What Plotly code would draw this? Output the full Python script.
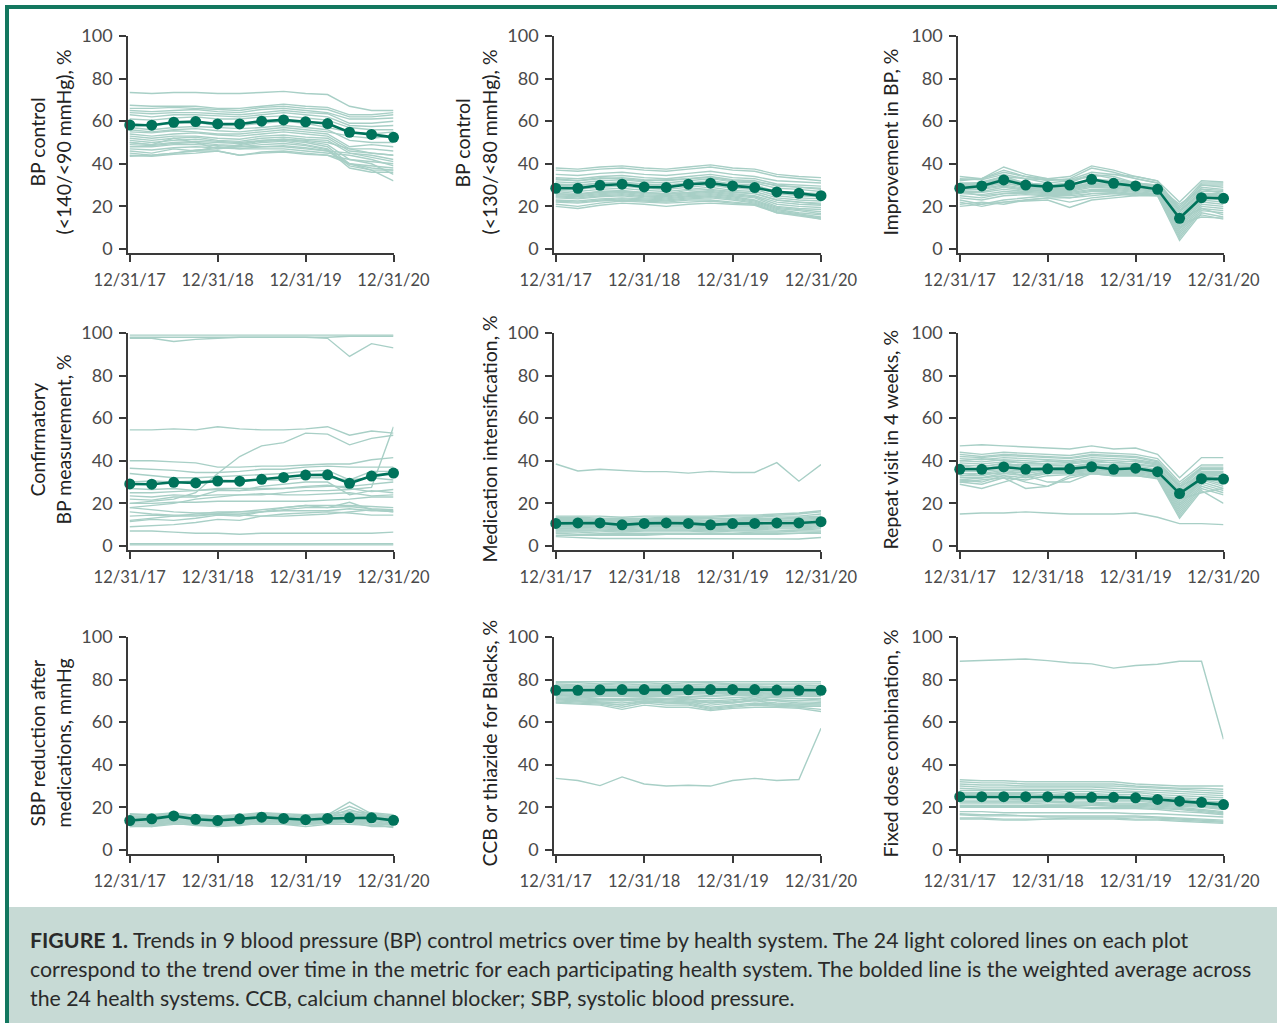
import plotly.graph_objects as go

# ---------------- DATA ----------------
quarters = list(range(13))  # quarterly from 12/31/17 to 12/31/20
tick_vals = [0, 4, 8, 12]
tick_text = ["12/31/17", "12/31/18", "12/31/19", "12/31/20"]
y_ticks = [0, 20, 40, 60, 80, 100]

# Panel 1: BP control (<140/<90 mmHg), %
p1_mean = [58.2, 58.1, 59.5, 59.8, 58.7, 58.7, 60.0, 60.6, 59.7, 58.9, 54.8, 53.8, 52.4]
p1_sys = [
    [73.5,73,73.5,73.5,73,73,73.5,74,73,72.5,67,65,65],
    [67.5,67,67,67,66,66,67,68,67,66.5,63,63,64],
    [66,66,66.5,66,65.5,65,66.5,67,66,65.5,62,62,63],
    [65,64.5,65,65.5,64.5,64,65.5,66,65,64,61,61,61.5],
    [64,63.5,64,64,63.5,63,64,65,64,63.5,59,59,60],
    [63,62,63,63,62.5,62,63,64,63,62,58,57.5,58],
    [61,60.5,61.5,62,61,61,62,62.5,61.5,60.5,57,56,56],
    [57,56,57,57.5,57,56.5,57,58,57,56,51,50,50],
    [55,54.5,55.5,55,54,54,55,56,55,54,48,49,48],
    [54,53,54,54.5,53.5,53,54,55,54,53,47,47,46],
    [53,52,53,53,52,51.5,53,53.5,52.5,52,46,45,44],
    [52,51,52,52.5,51,50.5,52,52.5,51.5,51,45,44,42],
    [51,50,51,51.5,50.5,50,51,51.5,50.5,49,42,41,40],
    [50,49,50,50.5,50,49.5,50.5,51,50,48,40,39,38],
    [49,48.5,49.5,50,49,48.5,50,50.5,49,47,39,37,37],
    [48,48,49,49,48.5,48,49,49.5,48.5,46.5,38,36,36],
    [47,46.5,47.5,48,47.5,47,48,48.5,47.5,46,45,43,41],
    [46,45,47,46,48,47,47,47,46,45,44,42,39],
    [45,44,45,46,46,44,45.5,46,45,44,42,40,35],
    [44,43.5,44.5,45,46,44,45,45.5,44.5,44,40,37,32],
    [43.5,44,45,46.5,47,48,48,48,47,46,40,38,37],
    [50,49,52,50,47,49,51,51.5,51,50,47,45,44],
    [56,55,56,56.5,55.5,55,56,57,56,55,53,52,53],
    [59,58,59,59.5,58,58,59,60,59,57,55,54,55],
]

# Panel 2: BP control (<130/<80 mmHg), %
p2_mean = [28.5, 28.5, 29.9, 30.4, 29.1, 28.9, 30.4, 30.9, 29.6, 28.8, 26.8, 26.1, 25.0]
p2_sys = [
    [38,37.5,38.5,39,38,37.5,38.5,39.5,38,37.5,35,34,33.5],
    [37,36.5,37.5,38,37,36.5,37.5,38.5,37,36.5,34,33,32],
    [35,34.5,35.5,36,35,34.5,35.5,36.5,35,34,32,31.5,31],
    [33.5,33,34,34.5,33.5,33,34,35,33.5,33,30.5,30,29.5],
    [32.5,32,33,33.5,32.5,32,33,34,32.5,32,29.5,29,28.5],
    [31.5,31,32,32.5,31.5,31,32,33,31.5,31,28.5,28,27],
    [30.5,30,31,31.5,30.5,30,31,32,30.5,30,27,26.5,26],
    [29.5,29,30,30.5,29.5,29,30,31,29.5,29,26,25,24.5],
    [28.5,28,29,29.5,28.5,28,29,30,28.5,28,25,24,23.5],
    [27.5,27,28,28.5,27.5,27,28,29,27.5,27,24,23,22.5],
    [27,26,27,27.5,26.5,26,27.5,28,27,26,23,22,21.5],
    [26,25.5,26.5,27,26,25.5,26.5,27,26,25,22,21,20.5],
    [25.5,25,26,26.5,25.5,25,26,26.5,25.5,24.5,21,20,19.5],
    [25,24.5,25.5,26,25,24.5,25.5,26,25,24,20,19,18.5],
    [24.5,24,25,25.5,24.5,24,25,25.5,24.5,23,19.5,18.5,17.5],
    [24,23.5,24.5,25,24,23.5,24.5,25,24,22.5,19,18,16.5],
    [23,22.5,23.5,24,23.5,23,24,24.5,23.5,22,18.5,17,16],
    [22.5,22,23,23.5,23,22.5,23.5,24,23,21.5,18,16.5,15],
    [22,21.5,22.5,23,22.5,22,23,23,22,21,17.5,16,14.5],
    [21,20,21.5,22.5,22,21.5,22,22.5,21.5,21,17,16,14],
    [20,19,20.5,21.5,21,20,21,21.5,21,20.5,17,15.5,14],
    [33,32,33.5,33,32,32.5,33,33.5,32,31.5,30,29,28],
    [30,29.5,31,31,30,29.5,30.5,31,30,29,27,26,25],
    [26,25.5,27,27,26.5,26,26.5,27.5,26.5,26,23,22,21],
]

# Panel 3: Improvement in BP, %
p3_mean = [28.5, 29.6, 32.4, 30.0, 29.2, 30.0, 32.7, 30.8, 29.6, 28.0, 14.4, 24.1, 23.8]
p3_sys = [
    [34,33,36,34,33,32,34,35,34,32,22,32,31.5],
    [33,32.5,35,33,32.5,32.5,36,35,33,31,20,31,31],
    [32.5,33,37,34,32,33,38,36,33,31,19,30,30],
    [32,33,38.5,35,33,34,39,37,34,32,18,30,29],
    [31,31,34,31,30,31,35,33,31,30,17,29,28],
    [30.5,31,33,31,30,30,33,32,31,29.5,16,28,27.5],
    [30,30.5,33,30,29.5,30,32.5,31,30,29,15,27,27],
    [29.5,30,32,30,29,29.5,32,31,30,29,14,26,26],
    [29,29.5,31,29.5,29,29,31,30,29.5,28.5,13,25,25],
    [28.5,29,31,29,28.5,28.5,30.5,30,29,28,12,24,24],
    [28,28.5,30,28.5,28,28,30,29.5,28.5,27.5,11,24,23],
    [27.5,28,29.5,28,27.5,27.5,29.5,29,28,27,10,23,22],
    [27,27,29,27.5,27,27,29,28.5,27.5,26.5,9,22,21],
    [26.5,26.5,28,27,26.5,26.5,28,28,27,26,8,21,20],
    [26,25.5,27,26.5,26,26,27.5,27.5,26.5,25.5,7,20,19],
    [25,24,26,26,25.5,25.5,27,27,26,25.5,6,19,18],
    [24,23,25,25.5,25,25,26,26.5,25.5,25,5,18,17],
    [23,21,23,24,25,24,25,26,25,25,4,17,15],
    [22,20,22,23,24,22,24,25,26,25.5,10,16,14],
    [20,21,22,22.5,23,19.5,23,24,25,26,12,15,14.5],
    [21,22,21,23,24,24,26,26,26,26,14,19,16],
    [30,31.5,34,33,31,32,35,34,31,29,21,28,26],
    [27,25,26,27,28,28,30,30,29,27,15,25,26],
    [29,31,33,31,30,29,31,31,31,30,18,26,24.5],
]

# Panel 4: Confirmatory BP measurement, %
p4_mean = [29.1, 29.0, 29.9, 29.6, 30.5, 30.4, 31.3, 32.2, 33.3, 33.4, 29.4, 32.8, 34.2]
p4_sys = [
    [99,99,99,99,99,99,99,99,99,99,99,99,99],
    [97.5,97.5,96,97,97.5,98,98,98,98,98,98.5,98.5,98.5],
    [98,98,98,98,98,98,98,98,98,97.5,89,95,93],
    [54.5,54.5,55,54.5,56,55,54.5,54.5,55,56,52,54,53],
    [20,21,22,25,34,42,47,48.5,53,52.5,47.5,50.5,52],
    [40,40,39.5,39,37,37,37.5,37.5,38,38.5,38.5,40.5,41.5],
    [36.5,36,35.5,34.5,34.5,35,36,36,37,37.5,37,37,37],
    [18,19,20,22,23,24,24,25,26,26,26.5,27.5,56],
    [34,33,32,32,32.5,33,33.5,34,35,35.5,31,35,35],
    [27,26.5,27,26,27,27,27,27,28,28.5,27,25.5,26.5],
    [23.5,23,24,23.5,24,24,24.5,24,24,24.5,25,23.5,24],
    [20,20,20.5,20.5,21,21,21,21,21,21.5,22,23,23],
    [18,17,16,15.5,15.5,16,16,16.5,16.5,16.5,17.5,16.5,16.5],
    [16,15,14.5,14.5,15,15,16,17,18,18,18.5,17.5,17],
    [11.5,12.5,12,13,14.5,14,16,18,19,18,20.5,17,16],
    [9,9.5,10,11,12.5,12,14,15,15.5,16,15.5,14.5,14.5],
    [7,7,6.5,6,6,5.5,6,6,6,6,6,6,6.5],
    [0.5,0.5,0.5,0.5,0.5,0.5,0.5,0.5,0.5,0.5,0.5,0.5,0.5],
    [1,1,1,1,1,1,1,1,1,1,1,1,1],
    [22,21.5,23,23,26,26,28,29,30,30,24,26,25],
    [25,25,25.5,26,26.5,26,26.5,27,27.5,28,28,29,30],
    [12,13,14,15,16,16,17,18,19,19,19,18.5,18],
    [30,30.5,30,30.5,30,31,31,31,32,32,31,32,31],
    [14,14.5,14,14,15,14.5,14,14,14.5,15,16,17,16],
]

# Panel 5: Medication intensification, %
p5_mean = [10.6, 10.8, 10.8, 9.9, 10.6, 10.8, 10.6, 9.9, 10.5, 10.6, 10.8, 10.8, 11.4]
p5_sys = [
    [38.5,35.2,36,35.3,34.9,34.9,34.2,35,34.5,34.5,39.1,30.4,38.2],
    [4.4,4,3.5,3.5,3.5,3.5,3.5,3.3,3.5,3.5,3.5,3.3,4],
    [14,14,14,13.5,14,14,14,14,14.5,14.5,15,15.5,16.5],
    [13.5,13.5,13,13,13,13.5,13.5,13.5,14,14,14.5,15,16],
    [13,13,12.5,12.5,12.5,13,13,13,13,13.5,14,14,15],
    [12.5,12.5,12,12,12,12.5,12.5,12,12.5,13,13,13.5,14],
    [12,12,12,11.5,12,12,12,11.5,12,12,12.5,13,13.5],
    [11.5,11.5,11.5,11,11.5,11.5,11.5,11,11.5,11.5,12,12,12.5],
    [11,11,11,10.5,11,11,11,10.5,11,11,11.5,11.5,12],
    [10.5,10.5,10.5,10,10.5,10.5,10.5,10,10.5,10.5,11,11,11.5],
    [10,10,10,9.5,10,10,10,9.5,10,10,10.5,10.5,11],
    [9.5,9.5,9.5,9,9.5,9.5,9.5,9,9.5,9.5,10,10,10.5],
    [9,9,9,8.5,9,9,9,8.5,9,9,9.5,9.5,10],
    [8.5,8.5,8.5,8,8.5,8.5,8.5,8,8.5,8.5,9,9,9.5],
    [8,8,8,7.5,8,8,8,7.5,8,8,8.5,8.5,9],
    [7.5,7.5,7.5,7,7.5,7.5,7.5,7,7.5,7.5,8,8,8.5],
    [7,7,7,6.5,7,7,7,6.5,7,7,7,7.5,8],
    [6.5,6.5,6,6,6,6,6,6,6,6.5,6.5,7,7],
    [6,5.5,5.5,5.5,5.5,5.5,5.5,5.5,5.5,6,6,6,6.5],
    [12,12.5,12.5,12,12.5,13,12.5,12,12.5,12.5,12,11.5,12],
    [10,10.5,10,10,10.5,10.5,10,10,10,10.5,10.5,10,10.5],
    [8,8.5,9,9,9.5,9.5,9.5,9.5,10,10,10.5,11,11],
    [5,5,5,5,5,5.5,5.5,5.5,5.5,5.5,5.5,6,6],
    [13,12.5,12,11.5,11.5,12,12,11.5,12,12.5,13,12.5,13],
]

# Panel 6: Repeat visit in 4 weeks, %
p6_mean = [36.0, 36.0, 37.1, 36.0, 36.2, 36.2, 37.2, 36.0, 36.5, 34.9, 24.6, 31.6, 31.4]
p6_sys = [
    [47,47.5,47,46.5,46,45.5,47,45.5,46,43,32,41.5,41.5],
    [15,15.5,15.5,16,15.5,15,15,15,15.5,13.5,10.5,10.5,10],
    [44,43,44,43.5,43,42.5,44,43.5,43,41,30,38,38],
    [43,42,43,42.5,42,41.5,43,42.5,42,40,29,37,37],
    [42,41.5,42.5,42,41.5,41,42.5,42,41.5,39.5,28,36.5,36.5],
    [41,40.5,41.5,41,40.5,40,41.5,41,40.5,39,27,36,36],
    [40,39.5,40.5,40,39.5,39.5,40.5,40,39.5,38,26,35,35],
    [39,38.5,39.5,39,38.5,38.5,39.5,39,38.5,37.5,25,34.5,34.5],
    [38,37.5,38.5,38,38,37.5,38.5,38,38,37,24,34,34],
    [37,36.5,37.5,37,37,37,38,37.5,37.5,36,23,33.5,33],
    [36,36,37,36,36.5,36.5,37.5,37,37,35.5,22,33,32],
    [35,35,36,35,36,36,37,36.5,36.5,35,21,32.5,31],
    [34,34,35.5,34,35.5,35.5,36.5,36,36,34.5,20,32,30],
    [33,33,35,33,35,35,36,35.5,35.5,34,19,31.5,29],
    [32,32,34,33,34.5,34.5,35.5,35,35,33.5,18,31,28],
    [31,30,33,32,34,34,35,34.5,34.5,33,17,30,27],
    [30,29,32,31,33,33.5,34.5,34,34,32.5,16,29,26],
    [29,27,30,33,30,30,34,33.5,33.5,32,15,28,25],
    [30,31,32,27,28,32,34,33,33,32,14,27,24],
    [31,32,33,30,28,33,34,33,33,31.5,13,26,20],
    [38,36,38,37,36,35,36,35,35,34,26,30,33],
    [40,41,40,39,40,39,40,39,40,38.5,28,33,34],
    [36,37,39,37,36,37,39,37,37,36,24,35,35],
    [33,34,34,35,36,36,37,36,36,34,22,25,27],
]

# Panel 7: SBP reduction after medications, mmHg
p7_mean = [13.8, 14.6, 16.0, 14.4, 13.8, 14.6, 15.4, 14.8, 14.2, 14.8, 15.1, 15.1, 13.9]
p7_sys = [
    [16.5,16.5,17.5,16,15.5,16,17.5,16.5,16,16.5,22.5,17,16],
    [16,16,17,15.5,15,15.5,17,16,15.5,16,20.5,16.5,15.5],
    [15.5,15.5,16.5,15,14.5,15,16.5,15.5,15,15.5,19,16,15],
    [15,15,16,15,14.5,15,16,15,15,15.5,17.5,16,15],
    [15,15.5,16.5,15,14,15,16,15.5,14.5,15,16,16,14.5],
    [14.5,15,16,14.5,14,14.5,15.5,15,14.5,15,15.5,15.5,14.5],
    [14,14.5,15.5,14.5,13.5,14.5,15,14.5,14,14.5,15,15,14],
    [13.5,14,15,14,13.5,14,15,14.5,14,14.5,15,15,13.5],
    [13,13.5,14.5,13.5,13,13.5,14.5,14,13.5,14,14.5,14.5,13],
    [12.5,13,14,13,12.5,13,14,13.5,13,13.5,14,14,12.5],
    [12,12.5,13.5,12.5,12,12.5,13.5,13,12.5,13,13.5,13.5,12],
    [11.5,12,13,12,11.5,12,13,12.5,12,12.5,13,13,11.5],
    [11,11.5,12.5,11.5,11,11.5,12.5,12,12,12.5,13,11,11],
    [12.5,11,13,12.5,12,12.5,14,13.5,13,13,14.5,12,10.5],
    [16,14,16.5,15.5,15,15.5,17,16,15,16,16.5,17,15.5],
    [15,16,15,14,15,15,16,15,14,14.5,15.5,16,14],
    [14,14,15,15,14,14,14.5,15,15,15,14,14,14],
    [13,13,14,14,13,13,14,14,13,14,14,14.5,13],
    [12,12,13,13,12,13,13,13,12,13,13,12,12],
    [11,11,12,12,11,12,12,12,11,12,12,11.5,11],
    [13,13,14,12,11.5,13,14,13,12.5,13,13,13,12],
    [14.5,15,15.5,14,13,14,15,14,13.5,14,15,14,13.5],
    [17,16.5,17,16.5,16,16.5,17.5,17,16.5,17,18,17.5,16.5],
    [15.5,15.5,15.5,15,14.5,15.5,16.5,15.5,15,15.5,17,15,14],
]

# Panel 8: CCB or thiazide for Blacks, %
p8_mean = [75.0, 75.0, 75.2, 75.3, 75.3, 75.3, 75.2, 75.3, 75.4, 75.3, 75.1, 75.0, 75.0]
p8_sys = [
    [33.6,32.6,30.2,34.3,31,30,30.4,30,32.6,33.6,32.6,33.1,57.1],
    [79,79,79,79,79,79,79,79,79,79,79,79,79],
    [78.5,78.5,78,78.5,78.5,78,78.5,78.5,78,78,78,78,78],
    [78,77.5,77.5,78,77.5,77.5,77.5,78,77.5,77.5,77.5,77.5,77],
    [77.5,77,77,77,77,77,77,77,77,77,76.5,76.5,76.5],
    [77,76.5,76.5,76.5,76.5,76.5,76.5,76.5,76.5,76.5,76,76,76],
    [76.5,76,76,76,76,76,76,76,76,76,75.5,75.5,75.5],
    [76,75.5,75.5,75.5,75.5,75.5,75.5,75.5,75.5,75.5,75,75,75],
    [75.5,75,75,75,75,75,75,75,75,75,74.5,74.5,74.5],
    [75,74.5,74.5,74.5,74.5,74.5,74.5,74.5,74.5,74.5,74,74,74],
    [74.5,74,74,74,74,74,74,74,74,74,73.5,73.5,73.5],
    [74,73.5,73.5,73.5,73.5,73.5,73.5,73.5,73.5,73.5,73,73,73],
    [73.5,73,73,73,73,73,73,72.5,73,73,72.5,72.5,72.5],
    [73,72.5,72.5,72.5,72.5,72.5,72,72,72.5,72.5,72,72,72],
    [72.5,72,72,72,72,72,71.5,71,71.5,72,71.5,71,71],
    [72,71.5,71,71,71.5,71,70.5,70,70.5,71,70.5,70,70],
    [71.5,71,70.5,70.5,71,70.5,70,69,69.5,70.5,70,69,69],
    [71,70.5,70,70,70.5,70,69.5,68,69,70,69,68.5,68.5],
    [70.5,70,69.5,69,70,69.5,69,67,68,69,68.5,68,68],
    [70,69.5,69,68,69.5,69,68.5,66.5,67.5,68.5,68,67.5,67.5],
    [69.5,69,68.5,67,69,68,68,66,67,68,67.5,67,66],
    [69,68.5,68,66,68,67,67,65.5,66.5,67,67,66.5,65],
    [71,70,69,68,70,69,69,70,69,70.5,68,68,69.5],
    [73,72,71,70,71,71,71,69,70,72,70,70,71],
]

# Panel 9: Fixed dose combination, %
p9_mean = [25.0, 25.0, 25.0, 25.0, 25.0, 24.8, 24.7, 24.7, 24.5, 23.7, 22.9, 22.4, 21.3]
p9_sys = [
    [88.6,88.9,89.4,89.7,88.9,87.9,87.4,85.4,86.6,87.2,88.6,88.6,52],
    [33,32.5,32.5,32,32,32,32,32,31,30.5,30,30,30],
    [32,31.5,31.5,31,31,31,31,31,30,29.5,29,29,28.5],
    [31,30.5,30.5,30,30,30,30,30,29.5,29,28.5,28,27.5],
    [30,29.5,29.5,29.5,29.5,29.5,29.5,29,28.5,28,27.5,27,26.5],
    [29,28.5,28.5,28.5,28.5,28.5,28.5,28,27.5,27,26.5,26,25.5],
    [28,28,28,28,28,27.5,27.5,27,27,26,25.5,25,24.5],
    [27,27,27,27,27,26.5,26.5,26,26,25,24.5,24,23.5],
    [26.5,26.5,26.5,26.5,26,26,26,25.5,25,24.5,24,23,22.5],
    [26,26,26,26,25.5,25.5,25.5,25,24.5,24,23,22.5,22],
    [25,25,25,25,25,24.5,24.5,24,24,23,22.5,22,21],
    [24.5,24.5,24.5,24.5,24.5,24,24,23.5,23.5,22.5,22,21.5,20.5],
    [24,24,24,23.5,23.5,23.5,23.5,23,23,22,21.5,21,20],
    [23,23,23,23,23,22.5,22.5,22,22,21.5,21,20.5,19.5],
    [22.5,22.5,22.5,22.5,22.5,22,22,21.5,21.5,21,20.5,20,19],
    [22,22,22,22,21.5,21.5,21.5,21,21,20.5,20,19,18],
    [21,21,21,21,21,21,21,20.5,20.5,20,19.5,18.5,17.5],
    [20.5,20.5,20.5,20.5,20.5,20.5,20,20,20,19.5,19,18,17],
    [20,20,20,20,20,20,19.5,19.5,19.5,19,18,17.5,16.5],
    [17,16.5,16.5,16,16,16,16,16,16,15.5,15,14.5,14],
    [16.5,16,16,16,15.5,15.5,15.5,15.5,15.5,15,14.5,14,13.5],
    [15,15,14.5,14.5,14.5,15,15,15,14.5,14.5,14,13.5,13],
    [14.5,14.5,14,14,14.5,14.5,14.5,14.5,14,14,13.5,13,12.5],
    [18,18,17.5,17.5,17.5,17.5,17.5,17.5,17,17,16.5,16,15.5],
]

panel_titles = [
    ["BP control", "(<140/<90 mmHg), %"],
    ["BP control", "(<130/<80 mmHg), %"],
    ["Improvement in BP, %"],
    ["Confirmatory", "BP measurement, %"],
    ["Medication intensification, %"],
    ["Repeat visit in 4 weeks, %"],
    ["SBP reduction after", "medications, mmHg"],
    ["CCB or thiazide for Blacks, %"],
    ["Fixed dose combination, %"],
]
panel_means = [p1_mean, p2_mean, p3_mean, p4_mean, p5_mean, p6_mean, p7_mean, p8_mean, p9_mean]
panel_sys = [p1_sys, p2_sys, p3_sys, p4_sys, p5_sys, p6_sys, p7_sys, p8_sys, p9_sys]

caption_lines = [
    "<b>FIGURE 1.</b> Trends in 9 blood pressure (BP) control metrics over time by health system. The 24 light colored lines on each plot",
    "correspond to the trend over time in the metric for each participating health system. The bolded line is the weighted average across",
    "the 24 health systems. CCB, calcium channel blocker; SBP, systolic blood pressure.",
]

# ---------------- LAYOUT / STYLE ----------------
W, H = 1277, 1023
FONT = "Lato, 'Open Sans', sans-serif"
LIGHT = "#a8cfc6"
DARK = "#00735b"
FRAME = "#13775f"
AXIS = "#3a3a3a"
TXT = "#4a4a4a"

col_px = [(128, 393.5), (554, 821), (958, 1223.5)]
row_px = [(36, 253), (333, 550), (637, 854)]
title_x_two = [(37, 63), (462, 489), (864, 890)]
title_x_one = [63, 489, 890]

fig = go.Figure()
layout = dict(
    width=W, height=H, autosize=False,
    margin=dict(l=0, r=0, t=0, b=0, pad=0, autoexpand=False),
    paper_bgcolor="white", plot_bgcolor="white",
    showlegend=False,
    font=dict(family=FONT, size=17, color=TXT),
)
annotations = []
shapes = []

for i in range(9):
    r, c = divmod(i, 3)
    n = i + 1
    xa = "x" if n == 1 else f"x{n}"
    ya = "y" if n == 1 else f"y{n}"
    for s in panel_sys[i]:
        fig.add_trace(go.Scatter(x=quarters, y=s, mode="lines",
                                 line=dict(color=LIGHT, width=1.4),
                                 xaxis=xa, yaxis=ya, hoverinfo="skip",
                                 cliponaxis=False))
    fig.add_trace(go.Scatter(x=quarters, y=panel_means[i], mode="lines+markers",
                             line=dict(color=DARK, width=2.6),
                             marker=dict(color=DARK, size=11),
                             xaxis=xa, yaxis=ya, cliponaxis=False))
    x0, x1 = col_px[c]
    y0, y1 = row_px[r]
    axname_x = "xaxis" if n == 1 else f"xaxis{n}"
    axname_y = "yaxis" if n == 1 else f"yaxis{n}"
    layout[axname_x] = dict(
        domain=[x0 / W, x1 / W], anchor=ya, range=[-0.08, 12],
        tickmode="array", tickvals=tick_vals, ticktext=tick_text,
        ticks="outside", ticklen=7, tickwidth=1.5, tickcolor=AXIS,
        showline=True, linecolor=AXIS, linewidth=1.5,
        showgrid=False, zeroline=False, automargin=False,
        ticklabelstandoff=4,
        tickfont=dict(family=FONT, size=16.5, color=TXT),
        fixedrange=True,
    )
    layout[axname_y] = dict(
        domain=[1 - y1 / H, 1 - y0 / H], anchor=xa, range=[-1.9, 100],
        tickmode="array", tickvals=y_ticks,
        ticks="outside", ticklen=7, tickwidth=1.5, tickcolor=AXIS,
        showline=True, linecolor=AXIS, linewidth=1.5,
        showgrid=False, zeroline=False, automargin=False,
        ticklabelstandoff=3,
        tickfont=dict(family=FONT, size=18, color=TXT),
        fixedrange=True,
    )
    ymid = 1 - ((y0 + (y1 - 4)) / 2) / H
    t = panel_titles[i]
    if len(t) == 2:
        xs = title_x_two[c]
        for k in range(2):
            annotations.append(dict(
                text=t[k], x=xs[k] / W, y=ymid, xref="paper", yref="paper",
                xanchor="center", yanchor="middle", textangle=-90, showarrow=False,
                font=dict(family=FONT, size=19.5, color="#222222")))
    else:
        annotations.append(dict(
            text=t[0], x=title_x_one[c] / W, y=ymid, xref="paper", yref="paper",
            xanchor="center", yanchor="middle", textangle=-90, showarrow=False,
            font=dict(family=FONT, size=19.5, color="#222222")))

# caption box
shapes.append(dict(type="rect", xref="paper", yref="paper",
                   x0=9 / W, x1=1, y0=0, y1=1 - 907 / H,
                   fillcolor="#c7dad5", line=dict(width=0), layer="below"))
# frame (left and top)
shapes.append(dict(type="rect", xref="paper", yref="paper",
                   x0=5 / W, x1=9 / W, y0=0, y1=1 - 5 / H,
                   fillcolor=FRAME, line=dict(width=0)))
shapes.append(dict(type="rect", xref="paper", yref="paper",
                   x0=5 / W, x1=1, y0=1 - 9 / H, y1=1 - 5 / H,
                   fillcolor=FRAME, line=dict(width=0)))

cap_y = [940, 969, 998]
for k, line in enumerate(caption_lines):
    annotations.append(dict(
        text=line, x=28 / W, y=1 - cap_y[k] / H, xref="paper", yref="paper",
        xanchor="left", yanchor="middle", showarrow=False,
        font=dict(family=FONT, size=21.3, color="#2a2a2a")))

layout["annotations"] = annotations
layout["shapes"] = shapes
fig.update_layout(**layout)
fig.write_html("out.html", config={"displayModeBar": False},
               post_script="document.body.style.margin='0';document.body.style.overflow='hidden';")
